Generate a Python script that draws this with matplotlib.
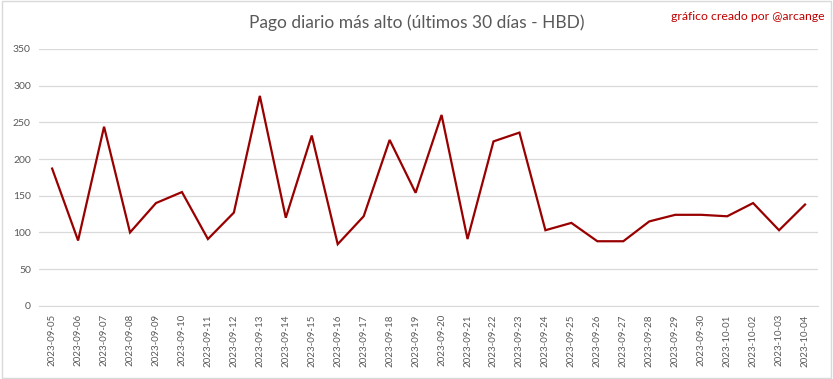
import matplotlib.pyplot as plt
from matplotlib.patches import Rectangle

dates = ['2023-09-05', '2023-09-06', '2023-09-07', '2023-09-08', '2023-09-09',
         '2023-09-10', '2023-09-11', '2023-09-12', '2023-09-13', '2023-09-14',
         '2023-09-15', '2023-09-16', '2023-09-17', '2023-09-18', '2023-09-19',
         '2023-09-20', '2023-09-21', '2023-09-22', '2023-09-23', '2023-09-24',
         '2023-09-25', '2023-09-26', '2023-09-27', '2023-09-28', '2023-09-29',
         '2023-09-30', '2023-10-01', '2023-10-02', '2023-10-03', '2023-10-04']
payout = [187, 89, 244, 100, 140, 155, 91, 127, 286, 120,
          232, 84, 122, 226, 154, 260, 91, 224, 236, 103,
          113, 88, 88, 115, 124, 124, 122, 140, 103, 138]
y_ticks = [0, 50, 100, 150, 200, 250, 300, 350]

plt.rcParams['font.family'] = ['Lato', 'DejaVu Sans']
text_gray = '#595959'

fig = plt.figure(figsize=(8.33, 3.79), dpi=100)
ax = fig.add_axes([0.047, 0.193, 0.935, 0.678])

x = range(len(payout))
ax.plot(x, payout, color='#990000', linewidth=1.6, solid_joinstyle='miter')

ax.set_xlim(-0.5, len(payout) - 0.5)
ax.set_ylim(0, 350)
ax.set_yticks(y_ticks)
ax.set_xticks(list(x))
ax.set_xticklabels(dates, rotation=90, fontsize=7, color=text_gray)
ax.tick_params(axis='y', labelsize=7.5, colors=text_gray, length=0, pad=6)
ax.tick_params(axis='x', length=0, pad=6)
ax.grid(axis='y', color='#d9d9d9', linewidth=0.9)
ax.set_axisbelow(True)
for side in ['top', 'right', 'left']:
    ax.spines[side].set_visible(False)
ax.spines['bottom'].set_color('#d9d9d9')

fig.text(0.5, 0.94, 'Pago diario más alto (últimos 30 días - HBD)',
         ha='center', va='center', fontsize=12.5, color=text_gray)
fig.text(0.99, 0.957, 'gráfico creado por @arcange',
         ha='right', va='center', fontsize=8.8, color='#c00000')

# thin frame round the whole chart
fig.patches.append(Rectangle((0.002, 0.003), 0.996, 0.994, transform=fig.transFigure,
                             fill=False, edgecolor='#d9d9d9', linewidth=1))

fig.savefig('out.png', dpi=100)
